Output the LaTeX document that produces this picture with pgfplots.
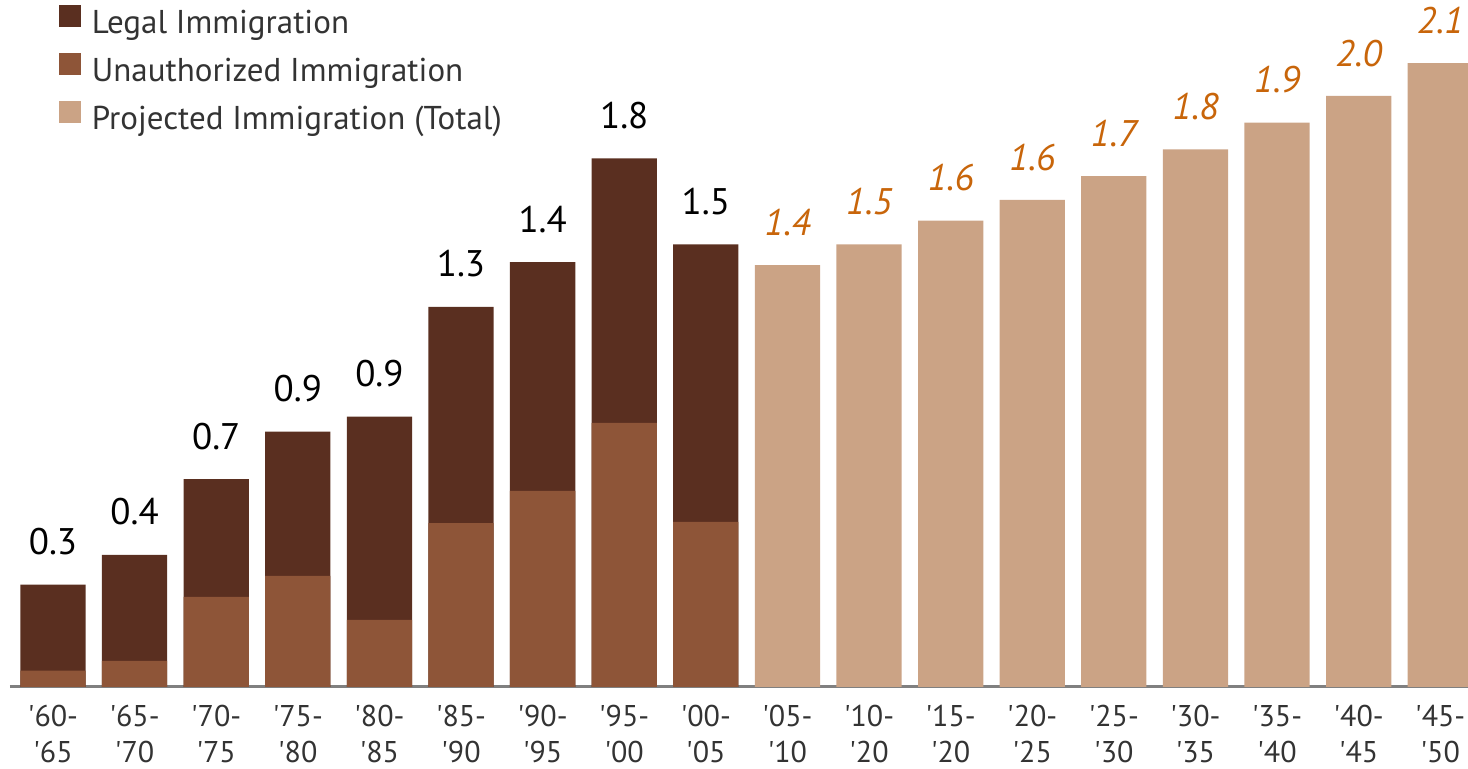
\documentclass[border=0pt]{standalone}
\usepackage{fontspec}
\setmainfont{PT Sans}[Ligatures=TeXOff]
\setsansfont{PT Sans}[Ligatures=TeXOff]
\usepackage{pgfplots}
\pgfplotsset{compat=1.18}
\usepackage{pgfplotstable}

\definecolor{legalc}{HTML}{5A2F20}
\definecolor{unauthc}{HTML}{8E5538}
\definecolor{projc}{HTML}{CBA385}
\definecolor{projlab}{HTML}{C8650A}
\definecolor{axisgray}{HTML}{808080}
\definecolor{txt}{HTML}{333333}

% straight apostrophe for the period labels
\def\ap{\char39 }

% Historical immigration, millions per year: unauthorized and legal
\pgfplotstableread{
x unauth legal
0 0.055 0.290
1 0.088 0.357
2 0.303 0.397
3 0.374 0.486
4 0.226 0.684
5 0.552 0.728
6 0.660 0.770
7 0.889 0.891
8 0.556 0.934
}\historical

% Projected immigration (total), millions per year
\pgfplotstableread{
x total
9  1.42
10 1.49
11 1.57
12 1.64
13 1.72
14 1.81
15 1.90
16 1.99
17 2.10
}\projected

\begin{document}
\begin{tikzpicture}
\useasboundingbox (0,0) rectangle (734pt,384.5pt);
\begin{axis}[
  at={(5pt,41pt)}, anchor=south west,
  scale only axis, width=729pt, height=343.5pt,
  xmin=-0.527, xmax=17.34, ymin=0, ymax=2.313,
  ybar, bar shift=0pt, bar width=0.8,
  axis x line*=bottom, axis y line=none,
  x axis line style={draw=axisgray, line width=1.5pt, -},
  xtick={0,...,17},
  xticklabels={
    \ap60-\\\ap65, \ap65-\\\ap70, \ap70-\\\ap75, \ap75-\\\ap80,
    \ap80-\\\ap85, \ap85-\\\ap90, \ap90-\\\ap95, \ap95-\\\ap00,
    \ap00-\\\ap05, \ap05-\\\ap10, \ap10-\\\ap20, \ap15-\\\ap20,
    \ap20-\\\ap25, \ap25-\\\ap30, \ap30-\\\ap35, \ap35-\\\ap40,
    \ap40-\\\ap45, \ap45-\\\ap50},
  major tick length=0pt,
  xticklabel style={font=\fontsize{15}{18}\selectfont, align=center,
    text=txt, inner sep=0pt, anchor=north, yshift=-9pt},
  ytick=\empty,
  /pgf/number format/.cd, fixed, fixed zerofill, precision=1,
    assume math mode=true,
  /pgfplots/.cd,
  every node near coord/.append style={inner sep=0pt, yshift=14.5pt,
    font=\fontsize{18.5}{22}\selectfont, text=black},
  legend image code/.code={\fill[#1] (0pt,0pt) rectangle (10.75pt,10.75pt);},
  legend style={at={(axis description cs:0.0336,0.9926)}, anchor=north west,
    draw=none, fill=none, inner sep=0pt, row sep=6.25pt, column sep=5.5pt,
    font=\fontsize{16.5}{19}\selectfont, text=txt,
    nodes={inner sep=0pt, text height=10.5pt, text depth=3.5pt}},
  legend cell align=left,
]
% total height in the legal colour, unauthorized share drawn over its lower part
\addplot[fill=legalc, draw=none, nodes near coords]
  table[x=x, y expr=\thisrow{unauth}+\thisrow{legal}] {\historical};
\addplot[fill=unauthc, draw=none]
  table[x=x, y=unauth] {\historical};
\addplot[fill=projc, draw=none, nodes near coords,
  every node near coord/.append style={text=projlab, font=\fontsize{18.5}{22}\selectfont\itshape}]
  table[x=x, y=total] {\projected};
\legend{Legal Immigration, Unauthorized Immigration, Projected Immigration (Total)}
\end{axis}
\end{tikzpicture}
\end{document}
